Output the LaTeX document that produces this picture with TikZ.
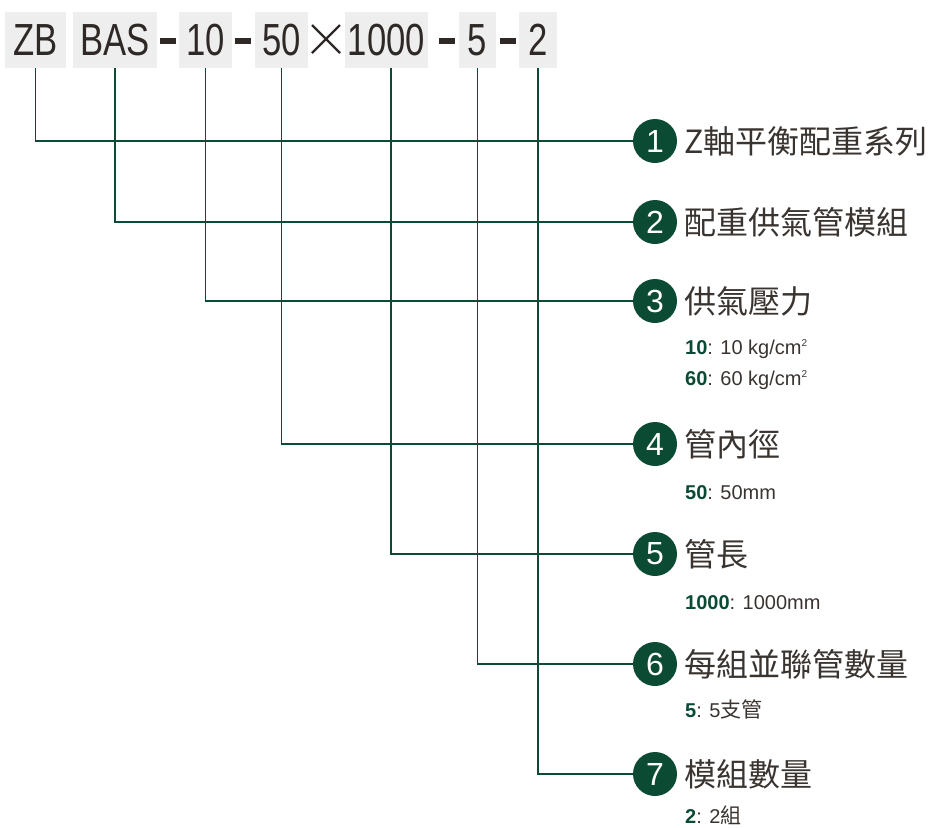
\documentclass[tikz,border=0pt]{standalone}
\usepackage{fontspec}
\setmainfont{Liberation Sans}
\newfontfamily\cond[FakeStretch=0.77]{Liberation Sans}
\newfontfamily\cjk{Noto Sans CJK TC}
\definecolor{dgreen}{HTML}{0B4A33}
\definecolor{txtgrey}{HTML}{3A3431}
\definecolor{codegrey}{HTML}{2E2826}
\definecolor{boxgrey}{HTML}{EEEEEE}
\tikzset{
  codebox/.style={fill=boxgrey, minimum height=56pt, inner sep=0pt, text=codegrey,
    font=\cond\fontsize{45}{45}\selectfont},
  numcirc/.style={circle, fill=dgreen, minimum size=44pt, inner sep=0pt, text=white,
    font=\fontsize{32}{32}\selectfont},
  title/.style={anchor=west, inner sep=0pt, text=txtgrey, font=\cjk\fontsize{32}{32}\selectfont},
  sub/.style={anchor=base west, inner sep=0pt, text=txtgrey, font=\fontsize{20}{20}\selectfont},
  link/.style={draw=dgreen, line width=1.6pt},
  dashbar/.style={fill=codegrey}
}
\newcommand{\gnum}[1]{\textcolor{dgreen}{\bfseries #1}}
\newcommand{\sqsup}{\raisebox{8pt}{\fontsize{10}{10}\selectfont 2}}
\begin{document}
\begin{tikzpicture}[x=1pt,y=-1pt]
\useasboundingbox (0,0) rectangle (930,828);
% code boxes
\node[codebox, minimum width=61pt] (b1) at (35.5,40) {ZB};
\node[codebox, minimum width=84pt] (b2) at (115,40) {BAS};
\node[codebox, minimum width=53pt] (b3) at (205.5,40) {10};
\node[codebox, minimum width=53pt] (b4) at (281.5,40) {50};
\node[codebox, minimum width=83pt] (b5) at (386.5,40) {1000};
\node[codebox, minimum width=37pt] (b6) at (477.5,40) {5};
\node[codebox, minimum width=38pt] (b7) at (538,40) {2};
% dashes
\fill[dashbar] (160,38) rectangle (176,44);
\fill[dashbar] (235,38) rectangle (251,44);
\fill[dashbar] (439,38) rectangle (455,44);
\fill[dashbar] (500,38) rectangle (516,44);
% times sign
\draw[codegrey, line width=2.2pt] (312,25) -- (340,53) (312,53) -- (340,25);
% circles
\node[numcirc] (c1) at (655,141) {1};
\node[numcirc] (c2) at (655,222) {2};
\node[numcirc] (c3) at (655,301) {3};
\node[numcirc] (c4) at (655,444) {4};
\node[numcirc] (c5) at (655,554) {5};
\node[numcirc] (c6) at (655,664) {6};
\node[numcirc] (c7) at (655,774) {7};
% connectors
\draw[link] (b1.south) |- (c1.west);
\draw[link] (b2.south) |- (c2.west);
\draw[link] (b3.south) |- (c3.west);
\draw[link] (b4.south) |- (c4.west);
\draw[link] ([xshift=4.5pt]b5.south) |- (c5.west);
\draw[link] (b6.south) |- (c6.west);
\draw[link] (b7.south) |- (c7.west);
% titles
\node[title] (t1) at (684,141) {Z軸平衡配重系列};
\node[title] (t2) at (684,222) {配重供氣管模組};
\node[title] (t3) at (684,301) {供氣壓力};
\node[title] (t4) at (684,444) {管內徑};
\node[title] (t5) at (684,554) {管長};
\node[title] (t6) at (684,664) {每組並聯管數量};
\node[title] (t7) at (684,774) {模組數量};
% sub texts
\node[sub] (s3a) at (685,354.2) {\gnum{10}: 10 kg/cm\sqsup};
\node[sub] (s3b) at (685,385.2) {\gnum{60}: 60 kg/cm\sqsup};
\node[sub] (s4) at (685,499.2) {\gnum{50}: 50mm};
\node[sub] (s5) at (685,609.2) {\gnum{1000}: 1000mm};
\node[sub] (s6) at (685,717.2) {\gnum{5}: 5{\cjk\fontsize{21}{21}\selectfont 支管}};
\node[sub] (s7) at (685,823.5) {\gnum{2}: 2{\cjk\fontsize{21}{21}\selectfont 組}};
\end{tikzpicture}
\end{document}
